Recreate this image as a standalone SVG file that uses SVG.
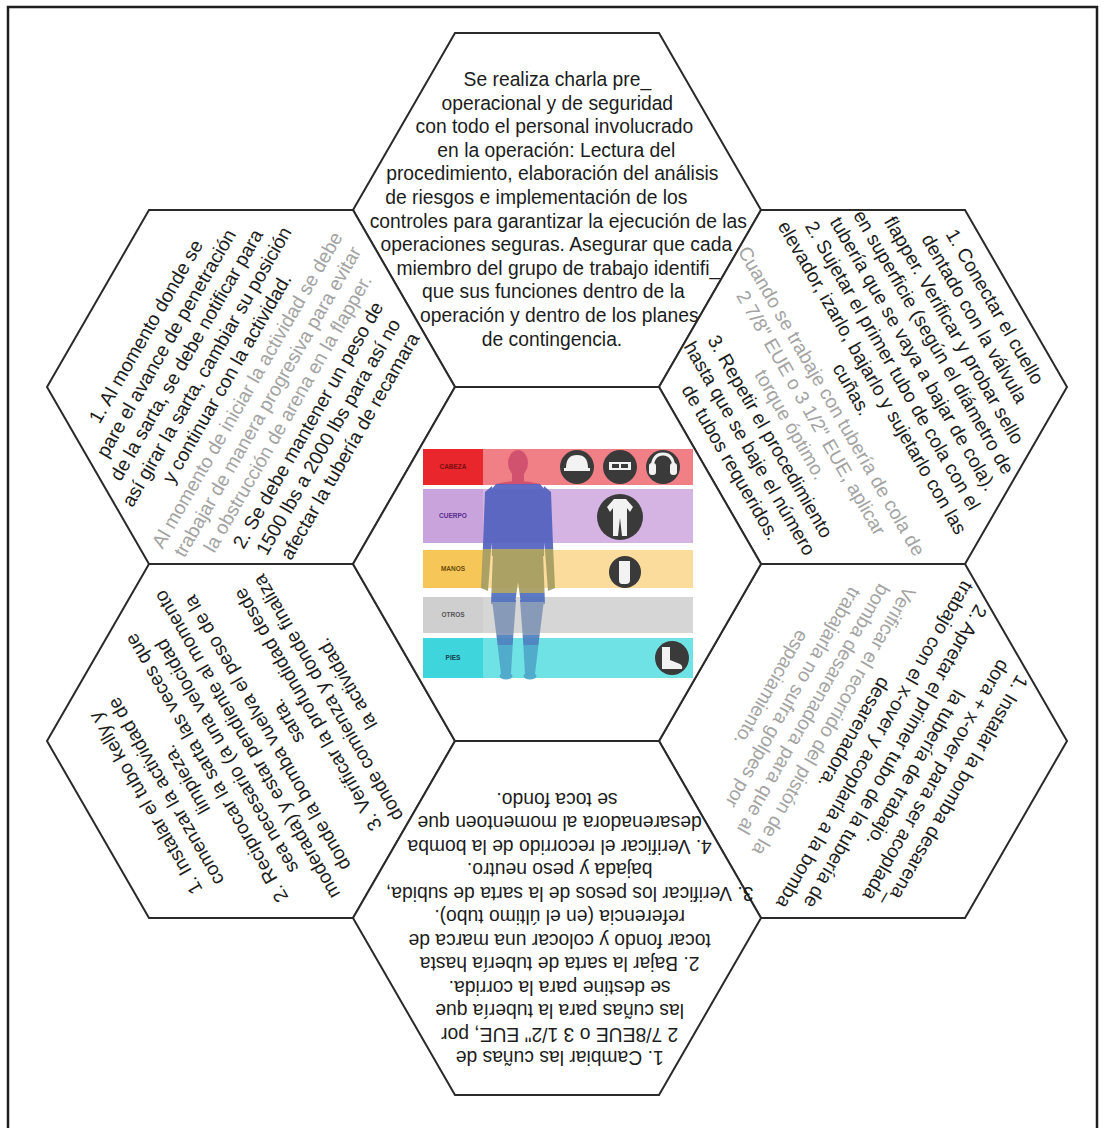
<svg xmlns="http://www.w3.org/2000/svg" width="1107" height="1128" viewBox="0 0 1107 1128">
  <style>
    .hex { fill: #ffffff; stroke: #2a2a2a; stroke-width: 2; stroke-linejoin: miter; }
    .t { font-family: "Liberation Sans", Arial, sans-serif; font-size: 19.3px; fill: #1c1c1c; text-anchor: middle; }
    .g { fill: #a3a3a3; }
    .lbl { font-family: "Liberation Sans", Arial, sans-serif; font-size: 6.5px; font-weight: bold; text-anchor: middle; }
    .ico { fill: #3a3a3a; }
    .icw { fill: #f2f2f2; }
  </style>
  <defs>
    <polygon id="hexShape" points="-204,0 -102,-177 102,-177 204,0 102,177 -102,177"/>
    <linearGradient id="bodyFill" gradientUnits="userSpaceOnUse" x1="0" y1="448" x2="0" y2="682">
      <stop offset="0" stop-color="#cf4f6c"/>
      <stop offset="0.155" stop-color="#cf4f6c"/>
      <stop offset="0.155" stop-color="#5261c0"/>
      <stop offset="0.43" stop-color="#5261c0"/>
      <stop offset="0.43" stop-color="#a59c60"/>
      <stop offset="0.62" stop-color="#a59c60"/>
      <stop offset="0.62" stop-color="#4f6fc0"/>
      <stop offset="0.66" stop-color="#4f6fc0"/>
      <stop offset="0.66" stop-color="#8196b6"/>
      <stop offset="0.8" stop-color="#8196b6"/>
      <stop offset="0.8" stop-color="#4e7fc0"/>
      <stop offset="0.84" stop-color="#4e7fc0"/>
      <stop offset="0.84" stop-color="#4fa7c9"/>
      <stop offset="1" stop-color="#4fa7c9"/>
    </linearGradient>
  </defs>

  <rect width="1107" height="1128" fill="#ffffff"/>

  <!-- page frame -->
  <path d="M8,1128 V7 H1097 V1128" fill="none" stroke="#1e1e1e" stroke-width="2.5"/>

  <!-- top cell -->
  <g id="hex-top" transform="translate(557,210)">
    <use href="#hexShape" class="hex"/>
    <text class="t">
      <tspan x="3" y="-124">Se realiza charla pre_</tspan>
      <tspan x="3" y="-100.4">operacional y de seguridad</tspan>
      <tspan x="0" y="-76.8">con todo el personal involucrado</tspan>
      <tspan x="2" y="-53.2">en la operación: Lectura del</tspan>
      <tspan x="-2" y="-29.6">procedimiento, elaboración del análisis</tspan>
      <tspan x="-18" y="-6">de riesgos e implementación de los</tspan>
      <tspan x="4" y="17.6">controles para garantizar la ejecución de las</tspan>
      <tspan x="2" y="41.2">operaciones seguras. Asegurar que cada</tspan>
      <tspan x="4" y="64.8">miembro del grupo de trabajo identifi_</tspan>
      <tspan x="-1" y="88.4">que sus funciones dentro de la</tspan>
      <tspan x="5" y="112">operación y dentro de los planes</tspan>
      <tspan x="-5" y="135.6">de contingencia.</tspan>
    </text>
  </g>

  <!-- upper left cell -->
  <g id="hex-upper-left">
    <use href="#hexShape" class="hex" transform="translate(251,387)"/>
    <text class="t" transform="translate(249,388) rotate(-60)">
      <tspan x="0" y="-111">1. Al momento donde se</tspan>
      <tspan x="0" y="-87.6">pare el avance de penetración</tspan>
      <tspan x="0" y="-64.2">de la sarta, se debe notificar para</tspan>
      <tspan x="0" y="-40.8">así girar la sarta, cambiar su posición</tspan>
      <tspan x="0" y="-17.4">y continuar con la actividad.</tspan>
      <tspan x="0" y="6" class="g">Al momento de iniciar la actividad se debe</tspan>
      <tspan x="0" y="29.4" class="g">trabajar de manera progresiva para evitar</tspan>
      <tspan x="0" y="52.8" class="g">la obstrucción de arena en la flapper.</tspan>
      <tspan x="0" y="76.2">2. Se debe mantener un peso de</tspan>
      <tspan x="0" y="99.6">1500 lbs a 2000 lbs para así no</tspan>
      <tspan x="0" y="123">afectar la tubería de recamara</tspan>
    </text>
  </g>

  <!-- upper right cell -->
  <g id="hex-upper-right">
    <use href="#hexShape" class="hex" transform="translate(863,387)"/>
    <text class="t" transform="translate(863,386) rotate(60)">
      <tspan x="0" y="-147.4">1. Conectar el cuello</tspan>
      <tspan x="0" y="-123.8">dentado con la válvula</tspan>
      <tspan x="0" y="-100.2">flapper. Verificar y probar sello</tspan>
      <tspan x="0" y="-76.6">en superficie (según el diámetro de</tspan>
      <tspan x="0" y="-53">tubería que se vaya a bajar de cola).</tspan>
      <tspan x="0" y="-29.4">2. Sujetar el primer tubo de cola con el</tspan>
      <tspan x="0" y="-5.8">elevador, izarlo, bajarlo y sujetarlo con las</tspan>
      <tspan x="0" y="17.8">cuñas.</tspan>
      <tspan x="0" y="41.4" class="g">Cuando se trabaje con tubería de cola de</tspan>
      <tspan x="0" y="65" class="g">2 7/8" EUE o 3 1/2" EUE, aplicar</tspan>
      <tspan x="0" y="88.6" class="g">torque óptimo.</tspan>
      <tspan x="0" y="112.2">3. Repetir el procedimiento</tspan>
      <tspan x="0" y="135.8">hasta que se baje el número</tspan>
      <tspan x="0" y="159.4">de tubos requeridos.</tspan>
    </text>
  </g>

  <!-- lower left cell -->
  <g id="hex-lower-left">
    <use href="#hexShape" class="hex" transform="translate(251,741)"/>
    <text class="t" transform="translate(246,742) rotate(-120)">
      <tspan x="0" y="-111">1. Instalar el tubo kelly y</tspan>
      <tspan x="0" y="-87.6">comenzar la actividad de</tspan>
      <tspan x="0" y="-64.2">limpieza.</tspan>
      <tspan x="0" y="-40.8">2. Reciprocar la sarta las veces que</tspan>
      <tspan x="0" y="-17.4">sea necesario (a una velocidad</tspan>
      <tspan x="0" y="6">moderada) y estar pendiente al momento</tspan>
      <tspan x="0" y="29.4">donde la bomba vuelva el peso de la</tspan>
      <tspan x="0" y="52.8">sarta.</tspan>
      <tspan x="0" y="76.2">3. Verificar la profundidad desde</tspan>
      <tspan x="0" y="99.6">donde comienza y donde finaliza</tspan>
      <tspan x="0" y="123">la actividad.</tspan>
    </text>
  </g>

  <!-- lower right cell -->
  <g id="hex-lower-right">
    <use href="#hexShape" class="hex" transform="translate(863,741)"/>
    <text class="t" transform="translate(863,741) rotate(120)">
      <tspan x="0" y="-100">1. Instalar la bomba desarena_</tspan>
      <tspan x="0" y="-76.4">dora + x-over para ser acoplada</tspan>
      <tspan x="0" y="-52.8">la tubería de trabajo.</tspan>
      <tspan x="0" y="-29.2">2. Apretar el primer tubo de la tubería de</tspan>
      <tspan x="0" y="-5.6">trabajo con el x-over y acoplarla a la bomba</tspan>
      <tspan x="0" y="18">desarenadora.</tspan>
      <tspan x="0" y="41.6" class="g">Verificar el recorrido del pistón de la</tspan>
      <tspan x="0" y="65.2" class="g">bomba desarenadora para que al</tspan>
      <tspan x="0" y="88.8" class="g">trabajarla no sufra golpes por</tspan>
      <tspan x="0" y="112.4" class="g">espaciamiento.</tspan>
    </text>
  </g>

  <!-- bottom cell -->
  <g id="hex-bottom">
    <use href="#hexShape" class="hex" transform="translate(557,918)"/>
    <text class="t" transform="translate(557,918) rotate(180)">
      <tspan x="0" y="-133">1. Cambiar las cuñas de</tspan>
      <tspan x="0" y="-109.5">2 7/8EUE o 3 1/2" EUE, por</tspan>
      <tspan x="0" y="-86">las cuñas para la tubería que</tspan>
      <tspan x="0" y="-62.5">se destine para la corrida.</tspan>
      <tspan x="0" y="-39">2. Bajar la sarta de tubería hasta</tspan>
      <tspan x="0" y="-15.5">tocar fondo y colocar una marca de</tspan>
      <tspan x="0" y="8">referencia (en el último tubo).</tspan>
      <tspan x="-10" y="31.5">3. Verificar los pesos de la sarta de subida,</tspan>
      <tspan x="0" y="55">bajada y peso neutro.</tspan>
      <tspan x="0" y="78.5">4. Verificar el recorrido de la bomba</tspan>
      <tspan x="0" y="102">desarenadora al momentoen que</tspan>
      <tspan x="0" y="125.5">se toca fondo.</tspan>
    </text>
  </g>

  <!-- center cell with protective equipment chart -->
  <g id="hex-center">
    <use href="#hexShape" class="hex" transform="translate(557,564)"/>
    <g id="ppe-chart">
      <!-- body zone bands -->
      <rect x="423" y="449" width="270" height="36" fill="#f07f86"/>
      <rect x="423" y="449" width="60" height="36" fill="#e8262b"/>
      <rect x="423" y="489" width="270" height="54" fill="#d5b3e2"/>
      <rect x="423" y="489" width="60" height="54" fill="#c9a3dc"/>
      <rect x="423" y="550" width="270" height="38" fill="#fbdc9c"/>
      <rect x="423" y="550" width="60" height="38" fill="#f7c659"/>
      <rect x="423" y="597" width="270" height="36" fill="#d6d6d6"/>
      <rect x="423" y="597" width="60" height="36" fill="#cfcfcf"/>
      <rect x="423" y="638" width="270" height="40" fill="#6fe2e6"/>
      <rect x="423" y="638" width="60" height="40" fill="#3fd5dc"/>
      <text class="lbl" x="453" y="469" fill="#7a0c10">CABEZA</text>
      <text class="lbl" x="453" y="518" fill="#5a2d8c">CUERPO</text>
      <text class="lbl" x="453" y="571" fill="#6a4a05">MANOS</text>
      <text class="lbl" x="453" y="617" fill="#555555">OTROS</text>
      <text class="lbl" x="453" y="660" fill="#14404a">PIES</text>

      <!-- human silhouette, back view -->
      <g fill="url(#bodyFill)" opacity="0.92">
        <ellipse cx="518" cy="463" rx="10" ry="13"/>
        <rect x="512" y="471" width="12" height="14"/>
        <path d="M496,484 Q518,478 540,484 L546,491 L544,556 L492,556 L490,491 Z"/>
        <path d="M492,486 L485,492 L483,545 L481,588 L488,591 L491,550 L496,510 Z"/>
        <path d="M544,486 L551,492 L553,545 L555,588 L548,591 L545,550 L540,510 Z"/>
        <path d="M493,552 L543,552 L545,604 L521,604 L518,582 L515,604 L491,604 Z"/>
        <path d="M492,600 L516,600 L513,640 L511,674 L501,674 L497,640 Z"/>
        <path d="M520,600 L544,600 L539,640 L535,674 L525,674 L523,640 Z"/>
        <ellipse cx="506" cy="676" rx="6.5" ry="3.5"/>
        <ellipse cx="530" cy="676" rx="6.5" ry="3.5"/>
      </g>

      <!-- head protection icons -->
      <circle class="ico" cx="577" cy="467" r="17"/>
      <path class="icw" d="M566,468 Q566,455 577,455 Q588,455 588,468 Z"/>
      <rect class="icw" x="564" y="468" width="26" height="3"/>
      <circle class="ico" cx="620" cy="467" r="17"/>
      <path class="icw" d="M609,462 H631 V470 H609 Z"/>
      <rect class="ico" x="612" y="464" width="7" height="4"/>
      <rect class="ico" x="621" y="464" width="7" height="4"/>
      <circle class="ico" cx="663" cy="467" r="17"/>
      <path d="M652,470 Q652,454 663,454 Q674,454 674,470" fill="none" stroke="#f2f2f2" stroke-width="3"/>
      <rect class="icw" x="649" y="463" width="7" height="12" rx="3"/>
      <rect class="icw" x="670" y="463" width="7" height="12" rx="3"/>

      <!-- body protection icon -->
      <circle class="ico" cx="620" cy="517" r="23"/>
      <path class="icw" d="M614,499 H626 L633,507 L630,512 L627,508 L627,536 L622,536 L620,518 L618,536 L613,536 L613,508 L610,512 L607,507 Z"/>

      <!-- hand protection icon -->
      <circle class="ico" cx="625" cy="572" r="16"/>
      <path class="icw" d="M619,561 H630 V580 Q630,584 626,584 H622 Q619,584 619,580 Z"/>

      <!-- foot protection icon -->
      <circle class="ico" cx="672" cy="658" r="17"/>
      <path class="icw" d="M662,647 H670 V660 L680,664 Q683,666 682,669 H662 Z"/>
    </g>
  </g>
</svg>
